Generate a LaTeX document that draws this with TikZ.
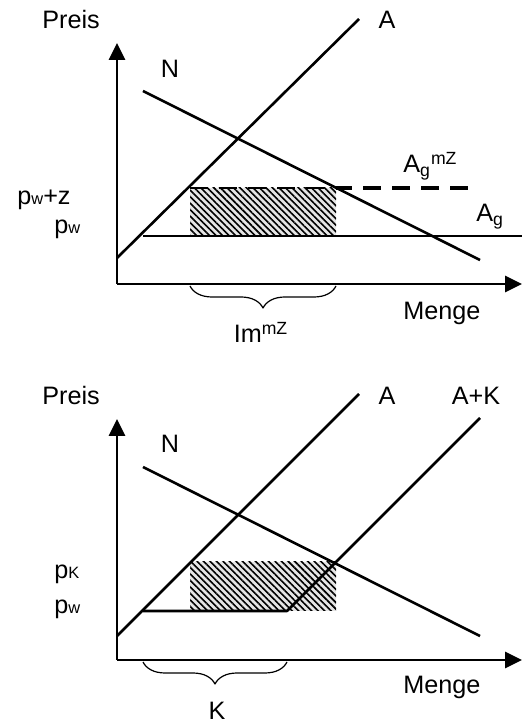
\documentclass[tikz,border=0pt]{standalone}
\usepackage{fontspec}
\setmainfont{Liberation Sans}
\usetikzlibrary{arrows.meta,patterns.meta,decorations.pathreplacing}
\newcommand{\klein}[1]{{\fontsize{8.2}{9}\selectfont #1}}

\begin{document}
\begin{tikzpicture}[x=0.5pt,y=0.5pt,line join=round,
    txt/.style={font=\fontsize{12.6}{14}\selectfont,inner sep=0pt},
    kurve/.style={line width=1.3pt},
    achse/.style={line width=1.4pt,-{Triangle[length=8.5pt,width=8pt]}},
    klammer/.style={decorate,decoration={brace,mirror,amplitude=11pt},line width=0.6pt},
    grund/.style={fill=gray!20},
    schraffur/.style={pattern={Lines[angle=-45,distance=2.3pt,line width=0.8pt]}}]
    \useasboundingbox (0,0) rectangle (522,722);

    % oben: Importmenge mit Zoll
    \coordinate (O1) at (117,438);
    \coordinate (y1) at (117,679);
    \coordinate (x1) at (522,438);
    \coordinate (A1u) at (117,464);
    \coordinate (A1o) at (359,703);
    \coordinate (N1o) at (143,631);
    \coordinate (N1u) at (480,462);
    \coordinate (w1l) at (143,486);
    \coordinate (w1r) at (522,486);
    \coordinate (r1a) at (190,486);
    \coordinate (r1b) at (336,534);
    \coordinate (z1l) at (190,534);
    \coordinate (z1m) at (336,534);
    \coordinate (z1r) at (470,534);
    \coordinate (b1l) at (190,436);
    \coordinate (b1r) at (336,436);
    \fill[grund] (r1a) rectangle (r1b);
    \fill[schraffur] (r1a) rectangle (r1b);
    \draw[achse] (O1)--(y1);
    \draw[achse] (O1)--(x1);
    \draw[kurve] (A1u)--(A1o);
    \draw[kurve] (N1o)--(N1u);
    \draw[kurve] (w1l)--(w1r);
    \draw[line width=0.9pt,dash pattern=on 9pt off 5.5pt] (z1l)--(z1m);
    \draw[line width=1.8pt,dash pattern=on 9pt off 5.5pt,dash phase=1pt] (z1m)--(z1r);
    \draw[klammer] (b1l)--(b1r);
    \node[txt,anchor=base west] (preis1) at (42,693) {Preis};
    \node[txt,anchor=base] (A1) at (387,693) {A};
    \node[txt,anchor=base] (N1) at (170,644) {N};
    \node[txt,anchor=base west] (Agmz) at (403,549) {A\textsubscript{g}\textsuperscript{mZ}};
    \node[txt,anchor=base west] (Ag) at (476,500) {A\textsubscript{g}};
    \node[txt,anchor=base west] (pwz) at (17,517) {p\klein{w}+z};
    \node[txt,anchor=base west] (pw1) at (54,488) {p\klein{w}};
    \node[txt,anchor=base] (imz) at (261,379) {Im\textsuperscript{mZ}};
    \node[txt,anchor=base west] (menge1) at (403,402) {Menge};

    % unten: Kontingent
    \coordinate (O2) at (117,62);
    \coordinate (y2) at (117,303);
    \coordinate (x2) at (522,62);
    \coordinate (A2u) at (117,86);
    \coordinate (A2o) at (359,328);
    \coordinate (N2o) at (143,255);
    \coordinate (N2u) at (480,86);
    \coordinate (w2l) at (143,111);
    \coordinate (k2) at (287,111);
    \coordinate (AK2o) at (480,304);
    \coordinate (r2a) at (190,111);
    \coordinate (r2b) at (336,160);
    \coordinate (b2l) at (143,60);
    \coordinate (b2r) at (287,60);
    \fill[grund] (r2a) rectangle (r2b);
    \fill[schraffur] (r2a) rectangle (r2b);
    \draw[achse] (O2)--(y2);
    \draw[achse] (O2)--(x2);
    \draw[kurve] (A2u)--(A2o);
    \draw[kurve] (N2o)--(N2u);
    \draw[kurve] (w2l)--(k2)--(AK2o);
    \draw[klammer] (b2l)--(b2r);
    \node[txt,anchor=base west] (preis2) at (42,317) {Preis};
    \node[txt,anchor=base] (A2) at (387,317) {A};
    \node[txt,anchor=base] (AK) at (476,317) {A+K};
    \node[txt,anchor=base] (N2) at (170,269) {N};
    \node[txt,anchor=base west] (pK) at (54,143) {p\klein{K}};
    \node[txt,anchor=base west] (pw2) at (54,108) {p\klein{w}};
    \node[txt,anchor=base] (K) at (217,3) {K};
    \node[txt,anchor=base west] (menge2) at (403,28) {Menge};
\end{tikzpicture}
\end{document}
